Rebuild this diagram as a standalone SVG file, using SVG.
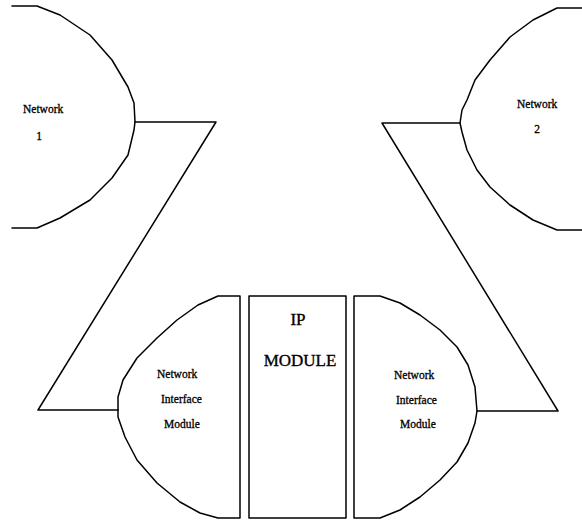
<svg xmlns="http://www.w3.org/2000/svg" width="582" height="520" viewBox="0 0 582 520">
<style>
.s{fill:none;stroke:#000;stroke-width:1.5;stroke-linejoin:round;stroke-linecap:round}
.t{font-family:"Liberation Serif","Times New Roman",serif;font-size:11.5px;fill:#000;stroke:#000;stroke-width:0.3}
.b{font-family:"Liberation Serif","Times New Roman",serif;font-size:17px;fill:#000;stroke:#000;stroke-width:0.35}
</style>
<rect width="582" height="520" fill="#fff"/>
<g id="network1">
<path class="s" d="M12,6 L37,6 L60,15 L90,35 L112,60 L128,87 L134,103 L135,122 L134,130 L128,155 L112,178 L90,200 L60,218 L37,228 L12,228"/>
<text class="t" x="23" y="113">Network</text>
<text class="t" x="39" y="140" text-anchor="middle">1</text>
</g>
<g id="network2">
<path class="s" d="M582,8 L557,8 L533,20 L510,37 L490,60 L475,80 L467,100 L462,110 L460,123 L462,132 L467,150 L477,170 L490,187 L510,205 L533,220 L557,230 L582,230"/>
<text class="t" x="517" y="108">Network</text>
<text class="t" x="537" y="133" text-anchor="middle">2</text>
</g>
<g id="nim-left">
<path class="s" d="M240,296 L218,296 L198,305 L177,320 L157,338 L137,358 L123,380 L118,397 L118,417 L125,437 L137,460 L157,483 L180,502 L200,513 L218,518 L240,518 Z"/>
<text class="t" x="157" y="378">Network</text>
<text class="t" x="161" y="403">Interface</text>
<text class="t" x="164" y="428">Module</text>
</g>
<g id="ip-module">
<rect class="s" x="249" y="296" width="97" height="222"/>
<text class="b" x="298" y="325" text-anchor="middle">IP</text>
<text class="b" x="300" y="366" text-anchor="middle">MODULE</text>
</g>
<g id="nim-right">
<path class="s" d="M354,296 L380,296 L400,303 L420,315 L440,330 L457,347 L468,365 L475,387 L477,411 L475,423 L468,443 L457,462 L440,480 L420,497 L400,510 L380,518 L354,518 Z"/>
<text class="t" x="394" y="379">Network</text>
<text class="t" x="396" y="404">Interface</text>
<text class="t" x="400" y="428">Module</text>
</g>
<g id="connectors">
<polyline class="s" points="135,122 216,122 38,410 118,410"/>
<polyline class="s" points="460,123 382,123 558,411 477,411"/>
</g>
</svg>
